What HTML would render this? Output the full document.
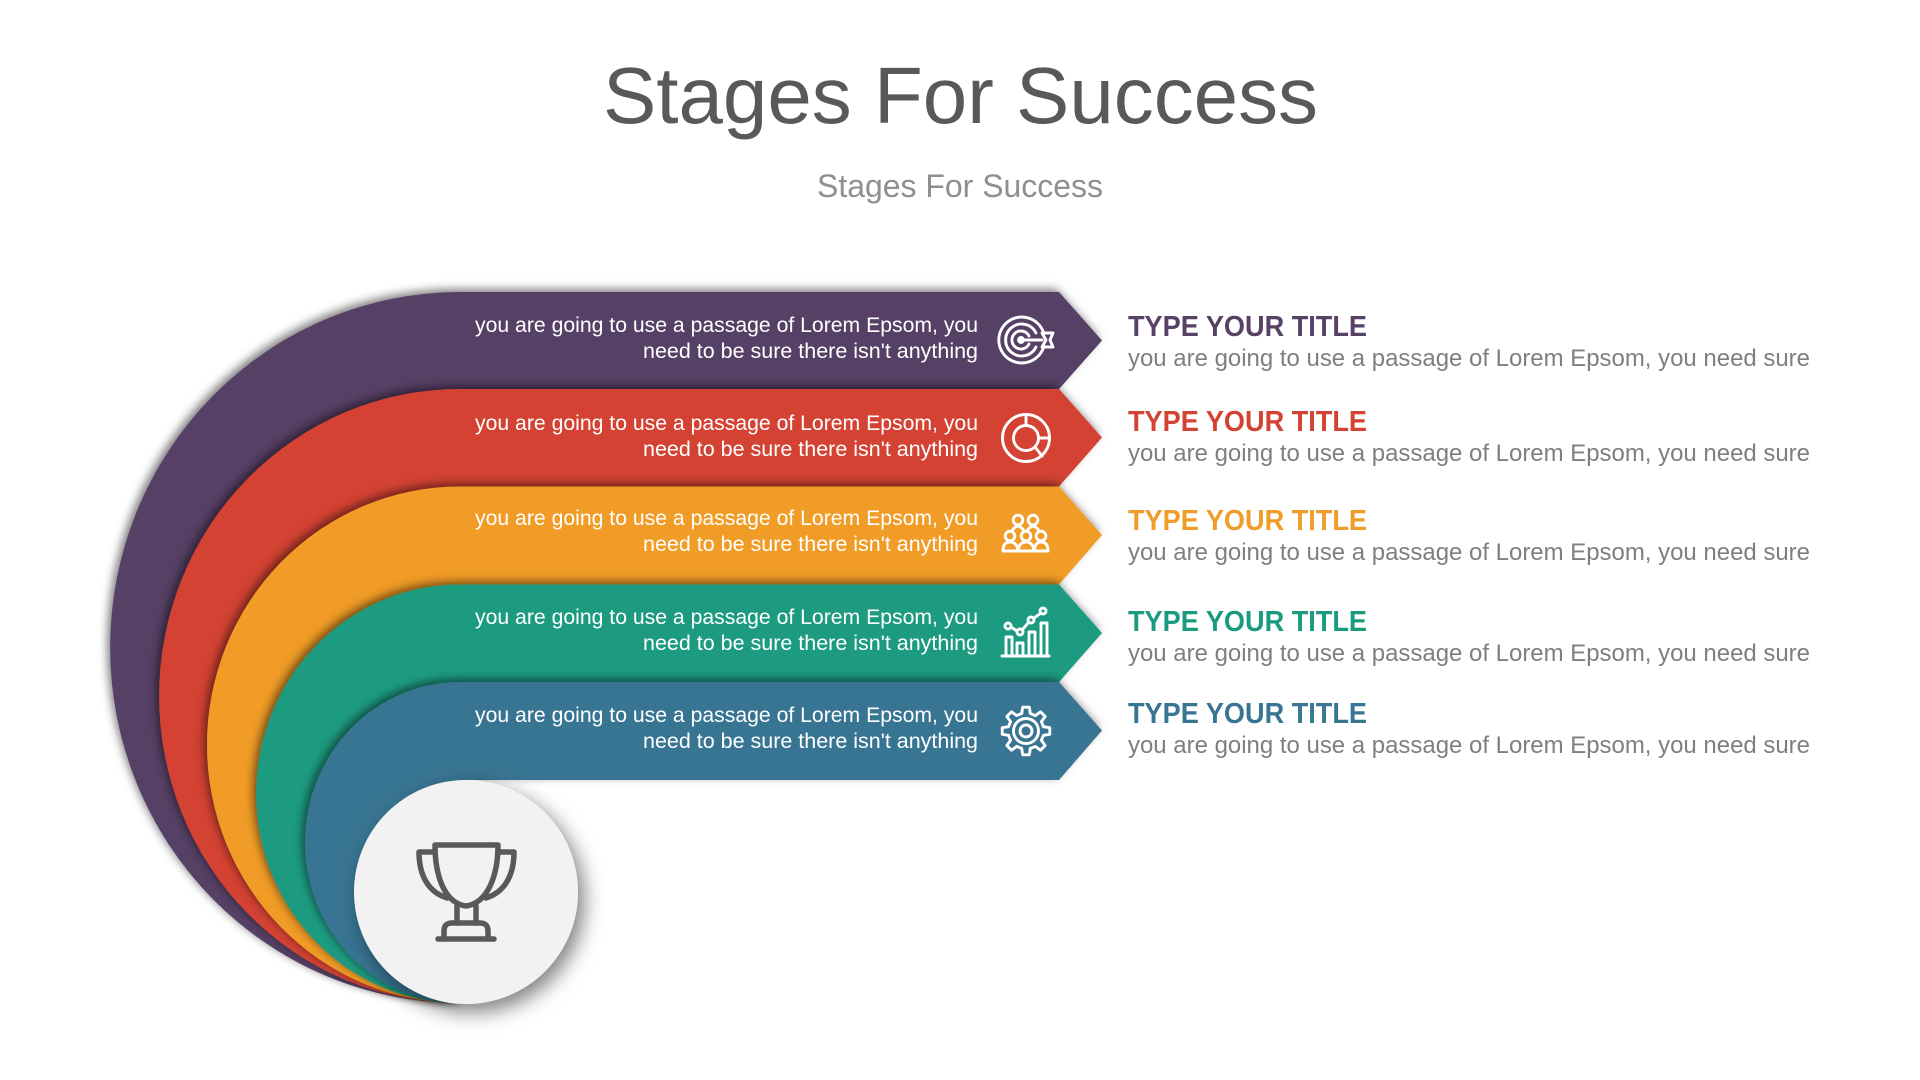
<!DOCTYPE html>
<html>
<head>
<meta charset="utf-8">
<title>Stages For Success</title>
<style>
html,body{margin:0;padding:0;background:#fff;width:1920px;height:1080px;overflow:hidden}
svg{display:block}
text{font-family:"Liberation Sans",sans-serif}
.b{fill:#fff;font-size:21px;text-anchor:start}
.t{font-size:29px;font-weight:700}
.d{font-size:24px;fill:#7f7f7f}
.i{fill:none;stroke:#fff;stroke-width:2.9;stroke-linejoin:round;stroke-linecap:round}
</style>
</head>
<body>
<svg width="1920" height="1080" viewBox="0 0 1920 1080" xmlns="http://www.w3.org/2000/svg">
<defs>
<filter id="s" filterUnits="userSpaceOnUse" x="60" y="240" width="1100" height="820">
<feDropShadow dx="-3" dy="-3" stdDeviation="4.500" flood-color="#000" flood-opacity=".5"/>
</filter>
<filter id="c" filterUnits="userSpaceOnUse" x="300" y="730" width="360" height="350">
<feDropShadow dx="6" dy="8" stdDeviation="10" flood-color="#000" flood-opacity=".5"/>
</filter>
</defs>
<rect width="1920" height="1080" fill="#fff"/>

<text x="603" y="123" font-size="80" fill="#595959" textLength="715" lengthAdjust="spacingAndGlyphs">Stages For Success</text>
<text x="817" y="197" font-size="32" fill="#8f8f8f" textLength="286" lengthAdjust="spacingAndGlyphs">Stages For Success</text>

<path filter="url(#s)" fill="#574165" d="M1059 292 L1102 340.500 L1059 389 L460 389 L460 1003 A350 355.500 0 0 1 460 292 Z"/>
<path filter="url(#s)" fill="#D34232" d="M1059 389 L1102 437.500 L1059 486.500 L460 486.500 L460 1003 A301 307 0 0 1 460 389 Z"/>
<path filter="url(#s)" fill="#F09C28" d="M1059 486.500 L1102 535 L1059 584.500 L460 584.500 L460 1003 A253 258.250 0 0 1 460 486.500 Z"/>
<path filter="url(#s)" fill="#1A9B80" d="M1059 584.500 L1102 633 L1059 682 L460 682 L460 1003 A204 209.250 0 0 1 460 584.500 Z"/>
<path filter="url(#s)" fill="#387592" d="M1059 682 L1102 730.500 L1059 780 L460 780 L460 1003 A155 160.500 0 0 1 460 682 Z"/>

<circle cx="466" cy="892" r="112" fill="#F2F2F2" filter="url(#c)"/>

<!-- trophy -->
<g fill="none" stroke="#595959" stroke-width="5.500" stroke-linejoin="round" stroke-linecap="round">
<path d="M435 845 H498 C498 875 488 903 466 906 C444 903 435 875 435 845 Z"/>
<path d="M435 852 H419 C419 875 428 892 447 898"/>
<path d="M498 852 H514 C514 875 505 892 486 898"/>
<path d="M457 906 V923 M476 906 V923"/>
<path d="M444 938 V931 Q444 923 452 923 H480 Q488 923 488 931 V938"/>
<path d="M438 939 H494"/>
</g>

<!-- band text -->
<text class="b" x="475" y="332" textLength="503" lengthAdjust="spacingAndGlyphs">you are going to use a passage of Lorem Epsom, you</text>
<text class="b" x="643" y="358" textLength="335" lengthAdjust="spacingAndGlyphs">need to be sure there isn't anything</text>
<text class="b" x="475" y="430" textLength="503" lengthAdjust="spacingAndGlyphs">you are going to use a passage of Lorem Epsom, you</text>
<text class="b" x="643" y="456" textLength="335" lengthAdjust="spacingAndGlyphs">need to be sure there isn't anything</text>
<text class="b" x="475" y="525" textLength="503" lengthAdjust="spacingAndGlyphs">you are going to use a passage of Lorem Epsom, you</text>
<text class="b" x="643" y="551" textLength="335" lengthAdjust="spacingAndGlyphs">need to be sure there isn't anything</text>
<text class="b" x="475" y="624" textLength="503" lengthAdjust="spacingAndGlyphs">you are going to use a passage of Lorem Epsom, you</text>
<text class="b" x="643" y="650" textLength="335" lengthAdjust="spacingAndGlyphs">need to be sure there isn't anything</text>
<text class="b" x="475" y="722" textLength="503" lengthAdjust="spacingAndGlyphs">you are going to use a passage of Lorem Epsom, you</text>
<text class="b" x="643" y="748" textLength="335" lengthAdjust="spacingAndGlyphs">need to be sure there isn't anything</text>

<!-- target icon -->
<g class="i">
<path d="M1044 334 A23 23 0 1 0 1044 346"/>
<path d="M1036 333 A16 16 0 1 0 1036 347"/>
<path d="M1029 336 A9 9 0 1 0 1029 344"/>
<circle cx="1021" cy="340" r="2.500"/>
<path d="M1021 340 H1042 M1042 333 H1047 L1053 333 L1050 340 L1053 347 H1047 L1042 347 L1046 340 Z"/>
</g>

<!-- pie icon -->
<g class="i">
<circle cx="1026" cy="438" r="23.500"/>
<circle cx="1026" cy="438" r="12.500"/>
<path d="M1026 415 V425 M1039 438 H1049 M1035 447 L1042 456"/>
</g>

<!-- people icon -->
<g class="i">
<circle cx="1018" cy="520" r="4.800"/>
<circle cx="1033" cy="520" r="4.800"/>
<circle cx="1010" cy="536" r="4.800"/>
<circle cx="1026" cy="536" r="4.800"/>
<circle cx="1041" cy="536" r="4.800"/>
<path d="M1003 551 Q1003 542 1010 542 Q1017 542 1018 551 M1018 551 Q1019 542 1026 542 Q1033 542 1034 551 M1034 551 Q1035 542 1041 542 Q1048 542 1048 551 M1003 551 H1048"/>
<path d="M1012 531 Q1014 527 1018 526 M1024 531 Q1022 527 1018 526 M1027 531 Q1029 527 1033 526 M1039 531 Q1037 527 1033 526"/>
</g>

<!-- chart icon -->
<g class="i">
<path d="M1002 656 H1049"/>
<path d="M1006 656 V637 H1012 V656 M1017 656 V643 H1023 V656 M1029 656 V632 H1035 V656 M1041 656 V623 H1047 V656"/>
<circle cx="1008" cy="626" r="3"/>
<circle cx="1020" cy="632" r="3"/>
<circle cx="1031" cy="620" r="3"/>
<circle cx="1043" cy="611" r="3"/>
<path d="M1011 627 L1017 631 M1022 630 L1029 622 M1034 618 L1041 613"/>
</g>

<!-- gear icon -->
<g class="i" transform="translate(1026 731)">
<circle r="12.500"/>
<circle r="6"/>
<path d="M-4.300 -17.500 L-3.300 -23.800 L3.300 -23.800 L4.300 -17.500 L9.330 -15.400"/>
<path transform="rotate(45)" d="M-4.300 -17.500 L-3.300 -23.800 L3.300 -23.800 L4.300 -17.500 L9.330 -15.400"/>
<path transform="rotate(90)" d="M-4.300 -17.500 L-3.300 -23.800 L3.300 -23.800 L4.300 -17.500 L9.330 -15.400"/>
<path transform="rotate(135)" d="M-4.300 -17.500 L-3.300 -23.800 L3.300 -23.800 L4.300 -17.500 L9.330 -15.400"/>
<path transform="rotate(180)" d="M-4.300 -17.500 L-3.300 -23.800 L3.300 -23.800 L4.300 -17.500 L9.330 -15.400"/>
<path transform="rotate(225)" d="M-4.300 -17.500 L-3.300 -23.800 L3.300 -23.800 L4.300 -17.500 L9.330 -15.400"/>
<path transform="rotate(270)" d="M-4.300 -17.500 L-3.300 -23.800 L3.300 -23.800 L4.300 -17.500 L9.330 -15.400"/>
<path transform="rotate(315)" d="M-4.300 -17.500 L-3.300 -23.800 L3.300 -23.800 L4.300 -17.500 L9.330 -15.400"/>
</g>

<!-- right column -->
<text class="t" x="1128" y="336" fill="#574165" textLength="239" lengthAdjust="spacingAndGlyphs">TYPE YOUR TITLE</text>
<text class="d" x="1128" y="366" textLength="682" lengthAdjust="spacingAndGlyphs">you are going to use a passage of Lorem Epsom, you need sure</text>
<text class="t" x="1128" y="431" fill="#D34232" textLength="239" lengthAdjust="spacingAndGlyphs">TYPE YOUR TITLE</text>
<text class="d" x="1128" y="461" textLength="682" lengthAdjust="spacingAndGlyphs">you are going to use a passage of Lorem Epsom, you need sure</text>
<text class="t" x="1128" y="530" fill="#F09C28" textLength="239" lengthAdjust="spacingAndGlyphs">TYPE YOUR TITLE</text>
<text class="d" x="1128" y="560" textLength="682" lengthAdjust="spacingAndGlyphs">you are going to use a passage of Lorem Epsom, you need sure</text>
<text class="t" x="1128" y="631" fill="#1A9B80" textLength="239" lengthAdjust="spacingAndGlyphs">TYPE YOUR TITLE</text>
<text class="d" x="1128" y="661" textLength="682" lengthAdjust="spacingAndGlyphs">you are going to use a passage of Lorem Epsom, you need sure</text>
<text class="t" x="1128" y="723" fill="#387592" textLength="239" lengthAdjust="spacingAndGlyphs">TYPE YOUR TITLE</text>
<text class="d" x="1128" y="753" textLength="682" lengthAdjust="spacingAndGlyphs">you are going to use a passage of Lorem Epsom, you need sure</text>
</svg>
</body>
</html>
